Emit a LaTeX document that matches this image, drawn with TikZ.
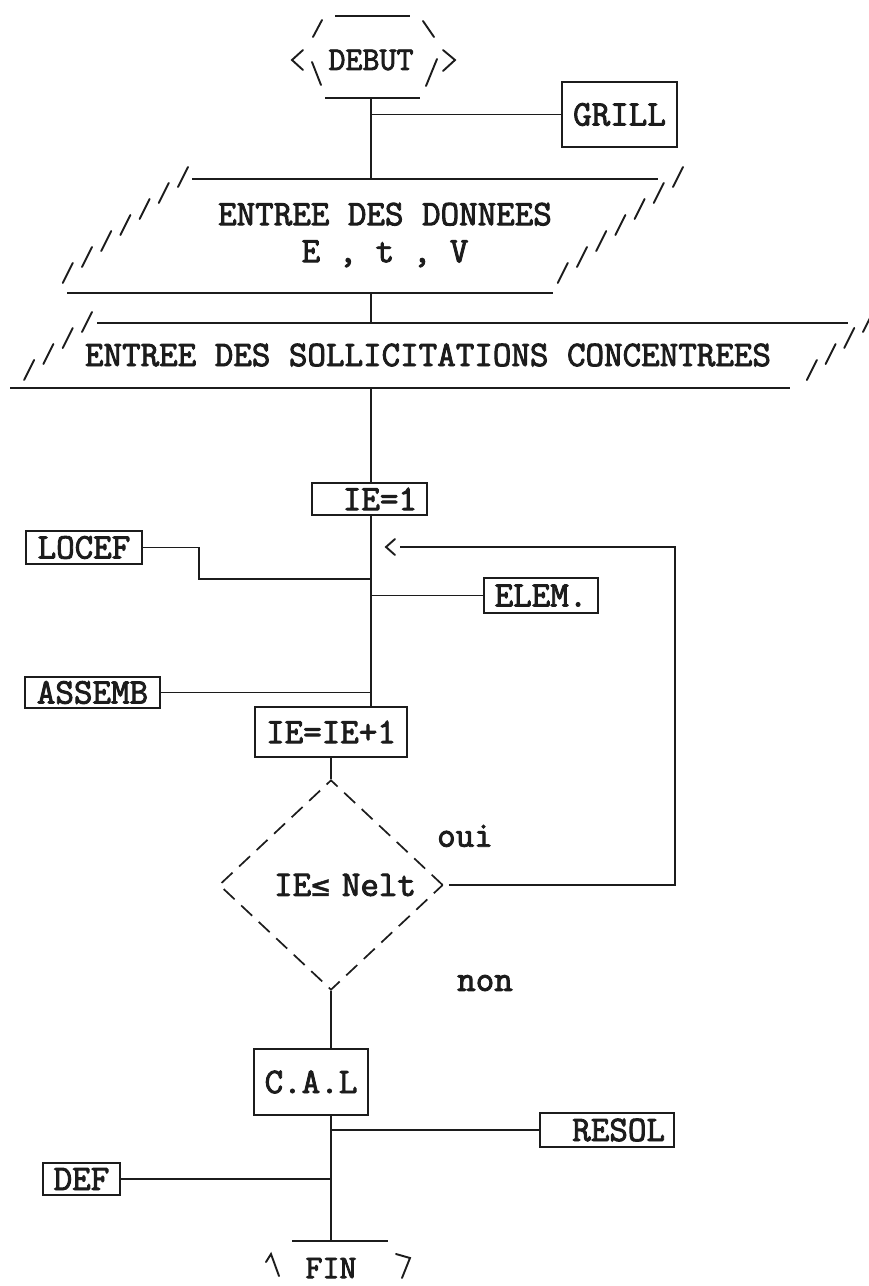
\documentclass[tikz,border=0pt]{standalone}
\usepackage{fontspec}
\newfontfamily\flowtt[FakeBold=2.5]{Latin Modern Mono}
\newfontfamily\symfont[FakeBold=1.5]{DejaVu Sans Mono}
\usetikzlibrary{positioning,shapes.geometric,calc}
\definecolor{inkC}{HTML}{1C1C1C}
\newcommand\flowfont{\flowtt\fontsize{36}{37}\selectfont}

\begin{document}
\begin{tikzpicture}[
  x=1pt, y=-1pt,
  color=inkC,
  line width=1.6pt,
  every node/.style={font=\flowfont, text=inkC},
  routine/.style 2 args={draw, line width=1.7pt, inner sep=0pt,
                         minimum width=#1, minimum height=#2},
  terminal/.style={inner sep=0pt, font=\flowtt\fontsize{33}{35}\selectfont},
  glyph/.style={line width=1.9pt, line cap=round},
  ioline/.style={line width=2.1pt},
  testbox/.style={diamond, draw, dash pattern=on 15pt off 9pt, line width=1.7pt,
                  aspect=1, inner sep=0pt, minimum width=224pt, minimum height=210pt},
]
\fill[white] (0,0) rectangle (869,1286);
\useasboundingbox (0,0) rectangle (869,1286);

% -- start
\node[terminal, minimum width=96pt, minimum height=76pt] (debut) at (371,60) {DEBUT};
\begin{scope}[shift={(debut.center)}]
  \draw[ioline] (-36,-44) -- (39,-44);
  \draw[ioline] (-46,38) -- (49,38);
  \draw[glyph] (-58,-23) -- (-49,-40);
  \draw[glyph] (-68,-10) -- (-79,0) -- (-68,10);
  \draw[glyph] (-59,2) -- (-50,25);
  \draw[glyph] (52,-39) -- (63,-23);
  \draw[glyph] (72,-10) -- (84,0) -- (72,11);
  \draw[glyph] (66,-1) -- (55,26);
\end{scope}
\node[routine={115pt}{65pt}] (grill) at (619.5,114.5) {GRILL};

% -- data input
\coordinate (p1n) at (371,179);
\coordinate (p1s) at (371,293);
\node[align=center] (donnees) at (385,235) {ENTREE DES DONNEES\\E , t , V};
\draw[ioline] (192,179) -- (658,179);
\draw[ioline] (67,293) -- (553,293);
\foreach \i in {0,...,6} {
  \draw[glyph] ({178-19.2*\i},{187+16*\i}) -- ++(10,-20);
  \draw[glyph] ({673-19.2*\i},{187+16*\i}) -- ++(10,-20);
}

% -- loads input
\coordinate (p2n) at (371,323);
\coordinate (p2s) at (371,388);
\node (sollic) at (428,355) {ENTREE DES SOLLICITATIONS CONCENTREES};
\draw[ioline] (97,323) -- (848,323);
\draw[ioline] (10,388) -- (790,388);
\foreach \i in {0,...,3} {
  \draw[glyph] ({82-19.3*\i},{332+16*\i}) -- ++(10,-20);
  \draw[glyph] ({863-18.7*\i},{332+16*\i}) -- ++(10,-20);
}

% -- element loop
\node[routine={115pt}{32pt}, text width=95pt, align=right] (ie1) at (369.5,499) {IE=1};
\node[routine={116pt}{33pt}] (locef) at (84,547.5) {LOCEF};
\node[routine={114pt}{35pt}] (elem) at (541,595.5) {ELEM.};
\node[routine={135pt}{31pt}] (assemb) at (92.5,692.5) {ASSEMB};
\node[routine={152pt}{50pt}] (ieinc) at (331,732) {IE=IE+1};
\node[testbox, text width=170pt, align=right] (test) at (331,885) {IE{\symfont\fontsize{31}{34}\selectfont ≤} Nelt};
\node (oui) at (465,836) {oui};
\node (non) at (485,983) {non};
\coordinate (jlocef) at (371,579);
\coordinate (ret) at (386,547);
\coordinate (loopc) at (675,547);

% -- solution
\node[routine={114pt}{66pt}] (cal) at (311,1082) {C.A.L};
\node[routine={134pt}{34pt}, text width=116pt, align=right] (resol) at (607,1130) {RESOL};
\node[routine={77pt}{32pt}] (def) at (81.5,1179) {DEF};
\node[terminal, minimum height=54pt] (fin) at (331,1268) {FIN};
\begin{scope}[shift={(fin.center)}]
  \draw[ioline] (-39,-27) -- (57,-27);
  \draw[glyph] (-65,-6) -- (-60,-14) -- (-52,8);
  \draw[glyph] (65,-14) -- (79,-10) -- (71,10);
\end{scope}

% -- connectors
\draw (debut.south) -- (p1n);
\draw (grill.west) -- (grill.west -| debut.south);
\draw (p1s) -- (p2n);
\draw (p2s) -- (p2s |- ie1.north);
\draw (p2s |- ie1.south) -- (p2s |- ieinc.north);
\draw (locef.east) -- ++(56,0) |- (jlocef);
\draw (elem.west) -- (elem.west -| p2s);
\draw (assemb.east) -- (assemb.east -| p2s);
\draw (ieinc.south) -- (test.north);
\draw ([xshift=5pt]test.east) -| (loopc) -- ([xshift=14pt]ret);
\draw[glyph] ([xshift=9pt,yshift=8pt]ret) -- (ret) -- ([xshift=9pt,yshift=-8pt]ret);
\draw (test.south) -- (test.south |- cal.north);
\draw (test.south |- cal.south) -- (test.south |- fin.north);
\draw (resol.west) -- (resol.west -| test.south);
\draw (def.east) -- (def.east -| test.south);

\end{tikzpicture}
\end{document}
